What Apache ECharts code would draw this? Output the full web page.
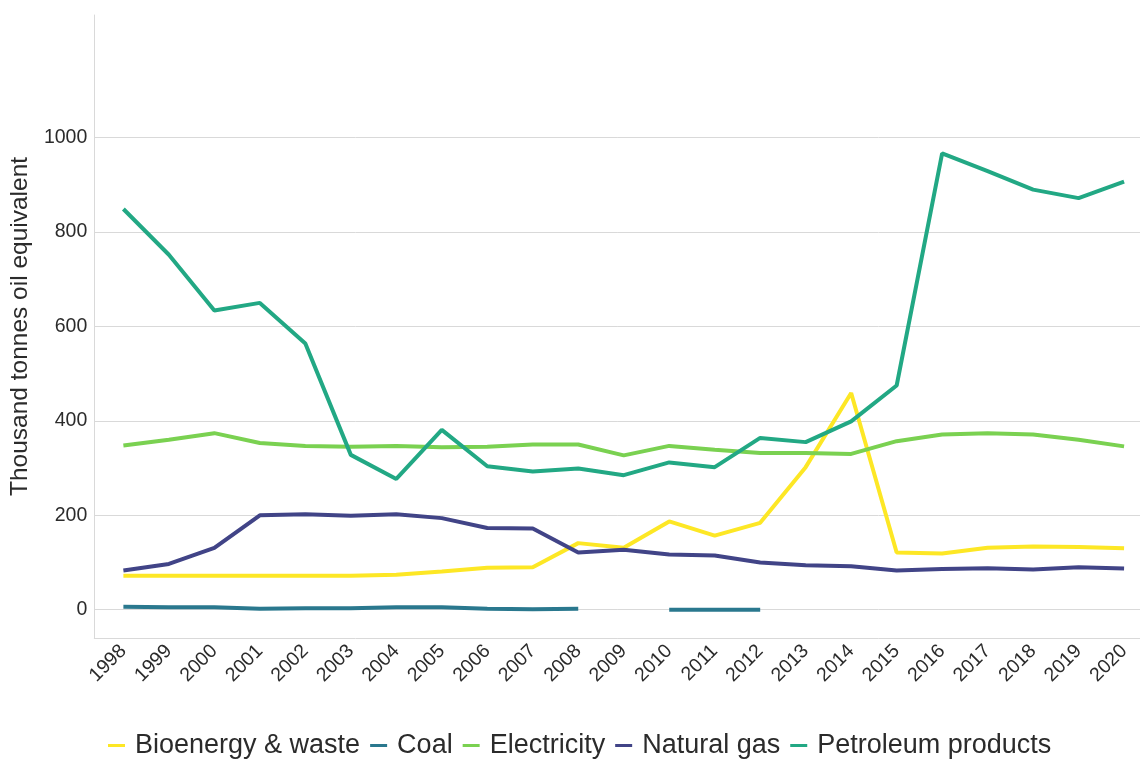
<!DOCTYPE html>
<html lang="en">
  <head>
    <meta charset="UTF-8" />
    <script src="https://cdn.jsdelivr.net/npm/echarts@6/dist/echarts.min.js"></script>
    <title>Energy consumption</title>
    <style>
      html, body { margin: 0; padding: 0; background: #fff; }
      #app { width: 1140px; height: 760px; }
    </style>
  </head>
  <body>
    <div id="app"></div>

    <script>
      // years on the x axis
      const years = [1998, 1999, 2000, 2001, 2002, 2003, 2004, 2005, 2006, 2007, 2008,
        2009, 2010, 2011, 2012, 2013, 2014, 2015, 2016, 2017, 2018, 2019, 2020];

      // thousand tonnes oil equivalent
      const bioenergy = [72, 72, 72, 72, 72, 72, 74, 81, 89, 90, 141,
        131, 187, 157, 184, 302, 459, 121, 119, 131, 134, 133, 130];
      const coal = [6, 5, 5, 2, 3, 3, 5, 5, 2, 1, 2,
        null, 0, 0, 0, null, null, null, null, null, null, null, null];
      const electricity = [348, 360, 374, 353, 347, 345, 347, 344, 345, 350, 350,
        327, 347, 339, 332, 332, 330, 357, 371, 374, 371, 360, 346];
      const naturalGas = [83, 97, 131, 200, 202, 199, 202, 194, 173, 172, 121,
        127, 117, 115, 100, 94, 92, 83, 86, 88, 85, 90, 87];
      const petroleum = [849, 752, 634, 650, 564, 328, 277, 381, 304, 293, 299,
        285, 312, 302, 364, 355, 399, 475, 967, 929, 890, 872, 907];

      const yTicks = [0, 200, 400, 600, 800, 1000];

      const seriesDefs = [
        { name: "Bioenergy & waste", data: bioenergy, color: "#FDE725" },
        { name: "Coal", data: coal, color: "#2A788E" },
        { name: "Electricity", data: electricity, color: "#7AD151" },
        { name: "Natural gas", data: naturalGas, color: "#414487" },
        { name: "Petroleum products", data: petroleum, color: "#22A884" },
      ];

      const textColor = "#2b2b2b";
      const font = "Liberation Sans";

      const chart = echarts.init(document.getElementById("app"));

      chart.setOption({
        animation: false,
        textStyle: { fontFamily: font },
        grid: { left: 92, top: 15, right: 0, bottom: 122 },
        legend: {
          top: 727,
          left: 103,
          icon: "rect",
          itemWidth: 17,
          itemHeight: 3,
          itemGap: 10,
          textStyle: { fontSize: 27, color: textColor, fontFamily: font, padding: [0, 0, 0, 5] },
          data: seriesDefs.map((s) => s.name),
        },
        xAxis: {
          type: "value",
          // ggplot-like padding around the first and last year
          min: 1997.36,
          max: 2020.35,
          axisLine: { show: true, onZero: false, lineStyle: { color: "#d9d9d9", width: 1 } },
          axisTick: { show: false, customValues: years },
          splitLine: { show: false },
          axisLabel: {
            customValues: years,
            rotate: 45,
            margin: 10,
            fontSize: 19.5,
            color: textColor,
            formatter: (v) => String(v),
          },
        },
        yAxis: {
          type: "value",
          min: -60,
          max: 1260,
          name: "Thousand tonnes oil equivalent",
          nameLocation: "middle",
          nameGap: 47,
          nameTextStyle: { fontSize: 24.5, color: textColor },
          axisLine: { show: true, lineStyle: { color: "#d9d9d9", width: 1 } },
          axisTick: { show: false, customValues: yTicks },
          axisLabel: {
            customValues: yTicks,
            fontSize: 19.5,
            color: textColor,
            margin: 7,
            formatter: (v) => String(v),
          },
          splitLine: { show: true, lineStyle: { color: "#d9d9d9", width: 1 } },
        },
        series: seriesDefs.map((s) => ({
          name: s.name,
          type: "line",
          data: years.map((y, i) => [y, s.data[i]]),
          showSymbol: false,
          symbol: "none",
          connectNulls: false,
          color: s.color,
          lineStyle: { width: 4, color: s.color },
        })),
      });
    </script>
  </body>
</html>
